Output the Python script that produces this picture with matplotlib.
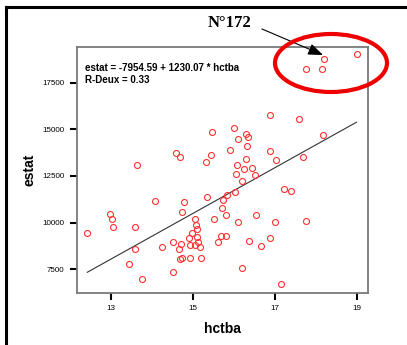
import matplotlib
matplotlib.use("Agg")
import matplotlib.pyplot as plt
from matplotlib.patches import Ellipse
from matplotlib.lines import Line2D

hctba = [18.19, 18.98, 17.75, 18.14,
         16.87, 17.58, 18.17, 16.00, 15.46, 16.29, 16.33, 16.10, 16.30, 14.58,
         14.67, 15.43, 15.90, 15.31, 13.63, 16.87, 17.01, 17.67, 16.28, 16.08,
         16.25, 16.43, 16.50, 16.05, 16.20, 17.22, 17.39, 16.03, 15.83, 15.73,
         15.34, 14.08, 14.77, 14.72, 15.71, 15.81, 16.52, 12.98, 13.02, 15.51,
         15.05, 16.10, 16.99, 17.75,
         12.42, 13.05, 13.58, 13.59, 13.44, 13.76, 14.25, 14.50, 14.70, 14.65,
         14.52, 14.67, 14.74, 14.92, 15.19, 14.89, 14.97, 14.93, 15.05, 15.13,
         15.17, 15.09, 15.09, 15.06, 15.60, 15.68, 15.81, 16.37, 16.65, 16.88,
         16.20, 17.14]
estat = [18806, 19043, 18269, 18269,
         15796, 15581, 14688, 15097, 14866, 14742, 14613, 14505, 14129, 13753,
         13522, 13613, 13898, 13253, 13108, 13844, 13344, 13522, 13430, 13108,
         12876, 12914, 12554, 12608, 12247, 11817, 11694, 11624, 11478, 11226,
         11387, 11172, 11086, 10565, 10796, 10419, 10419, 10473, 10188, 10204,
         10172, 10043, 10011, 10097,
         9452, 9774, 9774, 8591, 7785, 6946, 8667, 8935, 8844, 8559,
         7355, 8038, 8108, 8108, 8108, 9167, 9435, 8806, 8806, 8968,
         8667, 9237, 9651, 9882, 8935, 9274, 9274, 9000, 8753, 9167,
         7554, 6677]

intercept = -7954.59
slope = 1230.07
r2 = 0.33
xticks = [13, 15, 17, 19]
yticks = [7500, 10000, 12500, 15000, 17500]

W, H = 407, 345
fig = plt.figure(figsize=(W / 100, H / 100), dpi=100)
fig.patch.set_facecolor("white")

ax = fig.add_axes([77 / W, (H - 293) / H, (368 - 77) / W, (293 - 47) / H])
ax.set_xlim(12.17, 19.26)
ax.set_ylim(6210, 19435)

ax.plot(hctba, estat, linestyle="none", marker="o", markersize=4.3,
        markerfacecolor="none", markeredgecolor="#ff3030", markeredgewidth=0.8,
        clip_on=False, zorder=3)

x0, x1 = min(hctba), max(hctba)
ax.plot([x0, x1], [intercept + slope * x0, intercept + slope * x1],
        color="#333333", linewidth=0.8, zorder=2)

for s in ax.spines.values():
    s.set_color("#7a7a7a")
    s.set_linewidth(1.3)

ax.set_xticks(xticks)
ax.set_yticks(yticks)
ax.set_xticklabels([str(v) for v in xticks])
ax.set_yticklabels([str(v) for v in yticks])
ax.tick_params(direction="out", length=5, width=1.5, color="black",
               labelsize=5.8, pad=4)
for lab in ax.get_xticklabels() + ax.get_yticklabels():
    lab.set_fontfamily("Liberation Sans")

ax.set_xlabel("hctba", fontsize=10, fontweight="bold",
              fontfamily="Liberation Sans", labelpad=7)
ax.set_ylabel("estat", fontsize=10, fontweight="bold",
              fontfamily="Liberation Sans", labelpad=4)

ax.text(0.027, 0.935, "estat = -7954.59 + 1230.07 * hctba\nR-Deux = %.2f" % r2,
        transform=ax.transAxes, fontsize=7, fontweight="bold",
        fontfamily="Liberation Sans", va="top", ha="left", linespacing=1.25)

# outer frame (left and top edges)
fig.add_artist(Line2D([6 / W, 6 / W], [0, 1 - 7 / H], transform=fig.transFigure,
                      color="black", linewidth=2.2))
fig.add_artist(Line2D([6 / W, 1], [1 - 7 / H, 1 - 7 / H], transform=fig.transFigure,
                      color="black", linewidth=2.2))

# red ellipse
fig.add_artist(Ellipse((331 / W, 1 - 63 / H), 112 / W, 58 / H,
                       transform=fig.transFigure, fill=False,
                       edgecolor="#ee0000", linewidth=3.0))

# annotation N°172
fig.text(230 / W, 1 - 23 / H, "N°172", ha="center", va="center",
         fontsize=12, fontweight="bold", fontfamily="Liberation Serif")
ax.annotate("", xy=(323 / W, 1 - 55 / H), xycoords="figure fraction",
            xytext=(262 / W, 1 - 29 / H), textcoords="figure fraction",
            arrowprops=dict(arrowstyle="-|>,head_length=0.9,head_width=0.35",
                            color="black", linewidth=0.8, shrinkA=0, shrinkB=0))

fig.savefig("out.png", dpi=100, facecolor="white")
